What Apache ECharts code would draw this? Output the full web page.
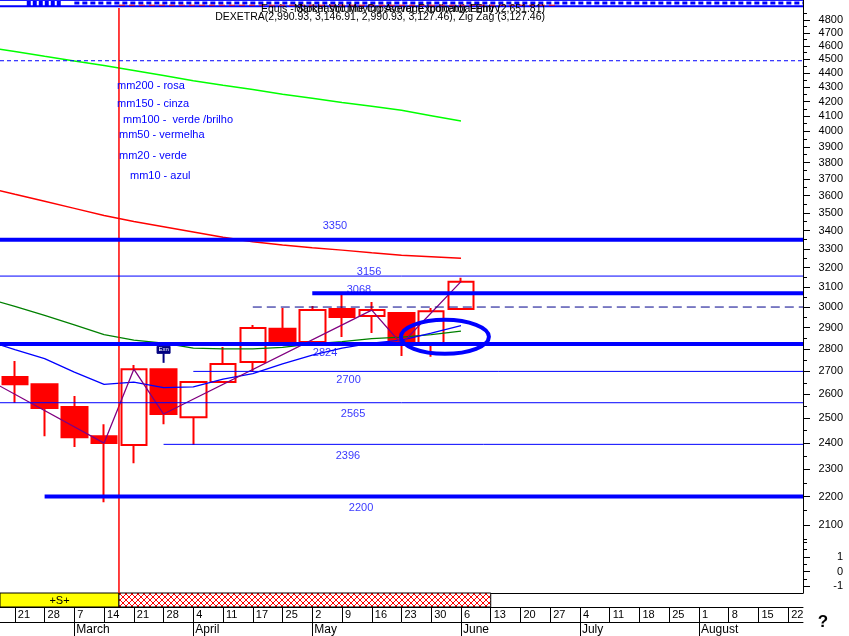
<!DOCTYPE html>
<html><head><meta charset="utf-8">
<script src="https://cdn.jsdelivr.net/npm/echarts@6/dist/echarts.min.js"></script>
<style>html,body{margin:0;padding:0;background:#fff}#c{width:849px;height:636px}</style>
</head><body><div id="c"></div>
<script>
// ---------- data ----------
const weeks = ['21 Feb','28 Feb','7 Mar','14 Mar','21 Mar','28 Mar','4 Apr','11 Apr','17 Apr','25 Apr','2 May','9 May','16 May','23 May','30 May','6 Jun','13 Jun','20 Jun','27 Jun','4 Jul','11 Jul','18 Jul','25 Jul','1 Aug','8 Aug','15 Aug','22 Aug'];
const monthNames = {Feb:'February',Mar:'March',Apr:'April',May:'May',Jun:'June',Jul:'July',Aug:'August'};
// weekly OHLC: [open, close, low, high]
const candles = [
  [2675, 2644, 2564, 2746],
  [2644, 2543, 2428, 2646],
  [2547, 2424, 2386, 2593],
  [2428, 2401, 2179, 2476],
  [2393, 2710, 2323, 2728],
  [2710, 2518, 2476, 2712],
  [2505, 2653, 2393, 2655],
  [2653, 2733, 2650, 2810],
  [2742, 2899, 2697, 2913],
  [2895, 2833, 2815, 2995],
  [2833, 2985, 2830, 3005],
  [2990, 2951, 2856, 3064],
  [2956, 2985, 2875, 3025],
  [2971, 2824, 2769, 2975],
  [2824, 2980, 2765, 2995],
  [2990.93, 3127.46, 2990.93, 3146.91]
];
const maWeek = [-1,0,1,2,3,4,5,6,7,8,9,10,11,12,13,14,15];
const mm100 = [4592,4558,4523,4489,4455,4419,4383,4346,4314,4283,4251,4222,4194,4167,4140,4104,4068];
const mm50  = [3650,3608,3567,3526,3485,3451,3421,3392,3363,3338,3321,3306,3293,3279,3266,3258,3249];
const mm20  = [3045,3003,2959,2914,2868,2842,2828,2805,2801,2801,2808,2824,2835,2849,2856,2868,2884];
const mm10  = [2842,2798,2757,2697,2643,2653,2629,2632,2666,2690,2733,2773,2805,2828,2842,2875,2910];
const zigWeek  = [-1, 3, 4, 5, 12, 13, 15];
const zigValue = [2671, 2401, 2710, 2518, 2985, 2824, 3127.46];
const levels    = [3350, 3156, 3068, 3000, 2824, 2700, 2565, 2396, 2200];
const levelFrom = [-0.5, -0.5, 10, 8, -0.5, 6, -0.5, 5, 1];
const dottedLevel = 4490;
const signalZones = [[-0.5, 3.5, '+S+'], [3.5, 16, '']];
const markerWeek = 3.5;
const circledAt = [14.46, 2857];
const exnAt = [5, 2797];
const yTicks = [2100,2200,2300,2400,2500,2600,2700,2800,2900,3000,3100,3200,3300,3400,3500,3600,3700,3800,3900,4000,4100,4200,4300,4400,4500,4600,4700,4800];
const yMinor = [2050,2150,2250,2350,2450,2550,2650,2750,2850,2950,3050,3150,3250,3350,3450,3550,3650,3750,3850,3950,4050,4150,4250,4350,4450,4550,4650,4750,4850];
const oscTicks = [-1, 0, 1];
const oscMinor = [-0.5, 0.5, 1.5, 2];
const legendLines = ['mm200 - rosa','mm150 - cinza','mm100 -  verde /brilho','mm50 - vermelha','mm20 - verde','mm10 - azul'];
const header1 = 'Equis - Stochastic Moving Average Indicator Entry (2,651.81)';
const header1b = 'Market Volume Crossover Exponential Entry';
const header2 = 'DEXETRA(2,990.93, 3,146.91, 2,990.93, 3,127.46), Zig Zag (3,127.46)';

// ---------- layout / style ----------
const FONT = 'Arial, "Liberation Sans", sans-serif';
const Y_MIN = 2048.7, Y_MAX = 4895;
const levelStyle = ['thick','thin','thick','dash','thick','thin','thin','thin','thick'];
const levelLabelX  = [10.76, 11.91, 11.57, null, 10.43, 11.22, 11.37, 11.2, 11.64];
const levelLabelDy = [-14, -4, -3, 0, 9, 9, 11, 12, 11];
const legendPos = [[117,86],[117,104],[123,120],[119,135],[119,156],[130,176]];

const dayLabels = weeks.map(w => w.split(' ')[0]);
const monthOf = weeks.map(w => w.split(' ')[1]);
const monthStart = monthOf.map((m, i) => i > 0 && m !== monthOf[i - 1]);

const hatch = document.createElement('canvas');
hatch.width = 6; hatch.height = 6;
(function(){const c = hatch.getContext('2d'); c.fillStyle = '#fff'; c.fillRect(0,0,6,6);
  c.strokeStyle = '#ff0000'; c.lineWidth = 1; c.beginPath();
  c.moveTo(0,0); c.lineTo(6,6); c.moveTo(6,0); c.lineTo(0,6); c.stroke();})();

const noSplit = {show:false};
const blackLine = {show:true, onZero:false, lineStyle:{color:'#000', width:1}};
const hiddenLine = {show:false, onZero:false};

const series = [];
// candles
series.push({type:'candlestick', xAxisIndex:1, yAxisIndex:1, data:candles, barWidth:26, z:2,
  itemStyle:{color:'rgba(0,0,0,0)', color0:'#ff0000', borderColor:'#ff0000', borderColor0:'#ff0000', borderWidth:2},
  emphasis:{disabled:true}});
// moving averages
const maDefs = [[mm100,'#00ff00',1.5],[mm50,'#ff0000',1.5],[mm20,'#008000',1.3],[mm10,'#0000ff',1.3]];
maDefs.forEach(d => series.push({type:'line', xAxisIndex:2, yAxisIndex:1, symbol:'none', z:3,
  data: maWeek.map((k,i)=>[k, d[0][i]]), lineStyle:{color:d[1], width:d[2]}, emphasis:{disabled:true}}));
// zigzag
series.push({type:'line', xAxisIndex:2, yAxisIndex:1, symbol:'none', z:3,
  data: zigWeek.map((k,i)=>[k, zigValue[i]]), lineStyle:{color:'#800080', width:1.3}});
// levels
levels.forEach((v,i) => {
  const s = levelStyle[i];
  series.push({type:'line', xAxisIndex:2, yAxisIndex:1, symbol:'none', z:4,
    data:[[levelFrom[i], v],[26.5, v]],
    lineStyle:{color: s==='dash' ? '#00008b' : '#0000ff', width: s==='thick' ? 4 : 1, type: s==='dash' ? [9,5] : 'solid'}});
});
series.push({type:'line', xAxisIndex:2, yAxisIndex:1, symbol:'none', z:4,
  data:[[-0.5, dottedLevel],[26.5, dottedLevel]], lineStyle:{color:'#0000ff', width:1, type:[4,3]}});
// level labels
series.push({type:'scatter', xAxisIndex:2, yAxisIndex:1, symbolSize:1, z:5,
  itemStyle:{color:'rgba(0,0,0,0)'},
  data: levels.map((v,i)=> levelLabelX[i]===null ? null : {value:[levelLabelX[i], v],
    label:{show:true, position:'inside', offset:[0, levelLabelDy[i]], formatter:String(v), color:'#0000ff', fontSize:11, fontFamily:FONT}}).filter(d=>d)});
// vertical marker line
series.push({type:'line', xAxisIndex:2, yAxisIndex:1, symbol:'none', z:3,
  data:[[markerWeek, Y_MIN],[markerWeek, Y_MAX]], lineStyle:{color:'#ff0000', width:1.5}});
series.push({type:'line', xAxisIndex:3, yAxisIndex:3, symbol:'none', z:3,
  data:[[markerWeek, -1.48],[markerWeek, 2.17]], lineStyle:{color:'#ff0000', width:1.5}});
// ellipse annotation
series.push({type:'custom', xAxisIndex:2, yAxisIndex:1, z:6, data:[circledAt],
  renderItem:(p, api) => { const c = api.coord([api.value(0), api.value(1)]);
    return {type:'ellipse', shape:{cx:c[0], cy:c[1], rx:44, ry:17}, style:{fill:'none', stroke:'#0000ff', lineWidth:4}}; }});
// Exn marker
series.push({type:'custom', xAxisIndex:2, yAxisIndex:1, z:6, data:[exnAt],
  renderItem:(p, api) => { const c = api.coord([api.value(0), api.value(1)]);
    return {type:'group', children:[
      {type:'rect', shape:{x:c[0]-6.5, y:c[1]-3.5, width:13, height:7}, style:{fill:'#000080', stroke:'#000080', lineWidth:1}},
      {type:'text', style:{text:'Exn', x:c[0], y:c[1], align:'center', verticalAlign:'middle', font:'6px '+FONT, fill:'#fff'}},
      {type:'line', shape:{x1:c[0], y1:c[1]+3.5, x2:c[0], y2:c[1]+13}, style:{stroke:'#000080', lineWidth:2}}
    ]}; }});
// signal zones (+S+ bar)
series.push({type:'custom', xAxisIndex:4, yAxisIndex:5, z:2, data:signalZones.map(z=>[z[0], z[1]]),
  renderItem:(p, api) => { const z = signalZones[p.dataIndex];
    const a = api.coord([api.value(0), 0]); const b = api.coord([api.value(1), 1]);
    return {type:'group', children:[
      {type:'rect', shape:{x:a[0], y:b[1], width:b[0]-a[0], height:a[1]-b[1]},
        style:{fill: p.dataIndex===0 ? '#ffff00' : {image:hatch, repeat:'repeat'}, stroke:'#000', lineWidth:1}},
      {type:'text', style:{text:z[2], x:(a[0]+b[0])/2, y:(a[1]+b[1])/2+0.5, align:'center', verticalAlign:'middle', font:'11px '+FONT, fill:'#000'}}
    ]}; }});
// top indicator strip
const stripSeries = [
  {d:[[-0.5,7.6],[26.5,7.6]], c:'#0000ff', w:1, t:'solid'},
  {d:[[2,5],[26.5,5]], c:'#0000ff', w:3, t:[5,3]},
  {d:[[-0.5,1.8],[26.5,1.8]], c:'#0000ff', w:2, t:'solid'},
  {d:[[3.5,2.8],[18.3,2.8]], c:'#ff0000', w:1, t:[6,4]},
  {d:[[0.4,4.5],[1.6,4.5]], c:'#0000ff', w:5, t:[4,2]}
];
stripSeries.forEach(s => series.push({type:'line', xAxisIndex:0, yAxisIndex:0, symbol:'none', data:s.d, lineStyle:{color:s.c, width:s.w, type:s.t}}));

const txt = (t, x, y, extra) => ({type:'text', x:x, y:y, z:100, silent:true, style:Object.assign({text:t, font:'11px '+FONT, fill:'#000', verticalAlign:'middle'}, extra||{})});
const graphics = [];
legendLines.forEach((t,i)=> graphics.push(txt(t, legendPos[i][0], legendPos[i][1], {fill:'#0000ff'})));
graphics.push(txt(header1, 545, 9.5, {align:'right', font:'10.5px '+FONT}));
graphics.push(txt(header1b, 500, 9.5, {align:'right', font:'10.5px '+FONT}));
graphics.push(txt(header2, 545, 17.5, {align:'right', font:'10.5px '+FONT}));
graphics.push(txt('?', 823, 622, {align:'center', font:'bold 17px '+FONT}));

const axisLab = {color:'#000', fontSize:11, fontFamily:FONT};
const option = {
  animation:false, backgroundColor:'#fff',
  grid:[
    {left:0, right:46, top:0, height:8, outerBoundsMode:'none'},
    {left:0, right:46, top:8, height:532, outerBoundsMode:'none'},
    {left:0, right:46, top:540, height:53, outerBoundsMode:'none'},
    {left:0, right:46, top:593, height:14, outerBoundsMode:'none'}
  ],
  xAxis:[
    {gridIndex:0, type:'value', min:-0.5, max:26.5, show:false, splitLine:noSplit},
    {gridIndex:1, type:'category', data:weeks, show:false, splitLine:noSplit},
    {gridIndex:1, type:'value', min:-0.5, max:26.5, show:false, splitLine:noSplit},
    {gridIndex:2, type:'value', min:-0.5, max:26.5, show:false, splitLine:noSplit},
    {gridIndex:3, type:'value', min:-0.5, max:26.5, position:'top', axisLine:blackLine, axisTick:{show:false}, axisLabel:{show:false}, splitLine:noSplit},
    {gridIndex:3, type:'category', data:weeks, position:'bottom', axisLine:blackLine,
      axisTick:{show:true, alignWithLabel:true, length:15, interval:0, lineStyle:{color:'#000'}},
      axisLabel:Object.assign({interval:0, formatter:(v,i)=>dayLabels[i], align:'left', padding:[0,0,0,3], margin:2}, axisLab), splitLine:noSplit},
    {gridIndex:3, type:'category', data:weeks, position:'bottom', offset:15, axisLine:blackLine,
      axisTick:{show:true, alignWithLabel:true, length:14, interval:(i)=>monthStart[i], lineStyle:{color:'#000'}},
      axisLabel:Object.assign({interval:(i)=>monthStart[i], formatter:(v,i)=>monthNames[monthOf[i]], align:'left', padding:[0,0,0,2], margin:2}, axisLab, {fontSize:12}), splitLine:noSplit}
  ],
  yAxis:[
    {gridIndex:0, type:'value', min:0, max:8, position:'right', axisLine:blackLine, axisTick:{show:false}, axisLabel:{show:false}, splitLine:noSplit},
    {gridIndex:1, type:'log', logBase:10, min:Y_MIN, max:Y_MAX, position:'right', axisLine:blackLine,
      axisTick:{show:true, customValues:yTicks, length:7, lineStyle:{color:'#000'}},
      axisLabel:Object.assign({customValues:yTicks, formatter:v=>String(Math.round(v)), align:'right', margin:40}, axisLab), splitLine:noSplit},
    // same price scale expressed as log10 values, used only to place the minor (50-point) ticks
    {gridIndex:1, type:'value', min:Math.log10(Y_MIN), max:Math.log10(Y_MAX), position:'right', axisLine:hiddenLine,
      axisTick:{show:true, customValues:yMinor.map(v=>Math.log10(v)), length:4, lineStyle:{color:'#000'}}, axisLabel:{show:false}, splitLine:noSplit},
    {gridIndex:2, type:'value', min:-1.48, max:2.17, position:'right', axisLine:blackLine,
      axisTick:{show:true, customValues:oscTicks, length:7, lineStyle:{color:'#000'}},
      axisLabel:Object.assign({customValues:oscTicks, formatter:v=>String(Math.round(v)), align:'right', margin:40}, axisLab), splitLine:noSplit},
    {gridIndex:2, type:'value', min:-1.48, max:2.17, position:'right', axisLine:hiddenLine,
      axisTick:{show:true, customValues:oscMinor, length:4, lineStyle:{color:'#000'}}, axisLabel:{show:false}, splitLine:noSplit},
    {gridIndex:3, type:'value', min:0, max:1, show:false, splitLine:noSplit}
  ],
  series: series,
  graphic: graphics
};
const chart = echarts.init(document.getElementById('c'), null, {renderer:'canvas'});
chart.setOption(option);
</script></body></html>
